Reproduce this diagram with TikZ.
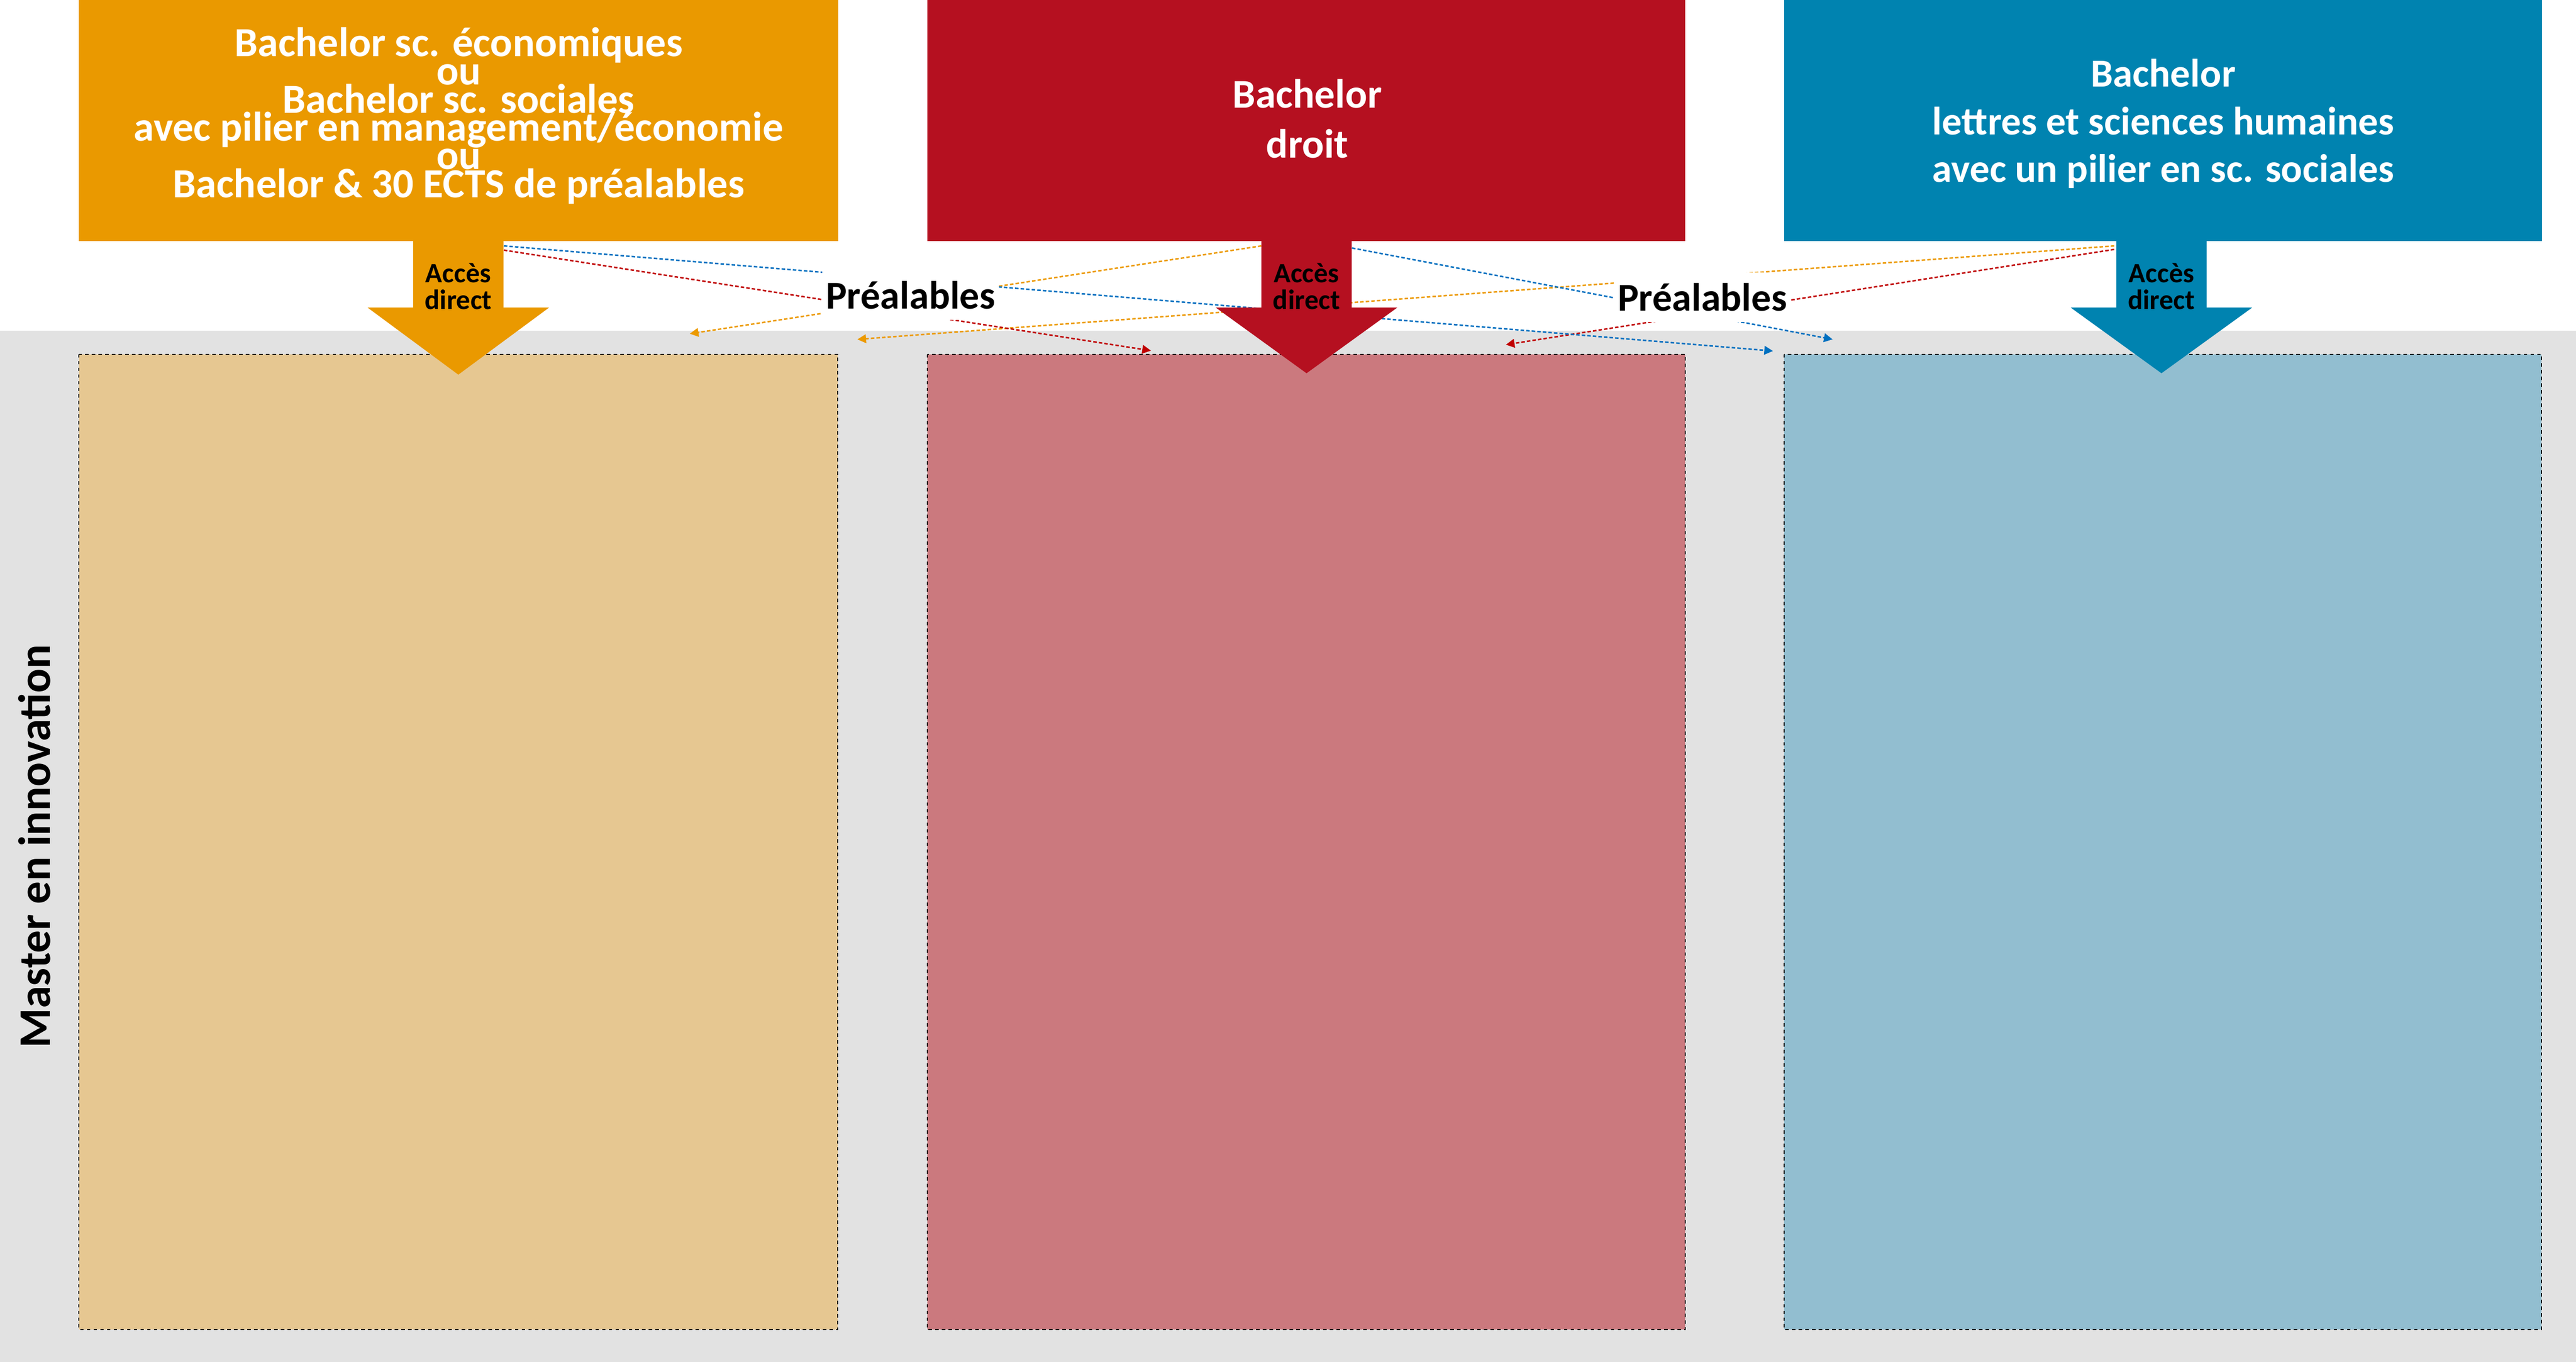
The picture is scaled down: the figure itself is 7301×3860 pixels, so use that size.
\documentclass[tikz,border=0pt]{standalone}
\usepackage{fontspec}
\setmainfont{Carlito}
\usetikzlibrary{arrows.meta}

\definecolor{bachorange}{RGB}{234,153,0}
\definecolor{bachred}{RGB}{181,16,32}
\definecolor{bachblue}{RGB}{0,131,176}
\definecolor{mastorange}{RGB}{230,199,145}
\definecolor{mastred}{RGB}{203,121,126}
\definecolor{mastblue}{RGB}{146,190,208}
\definecolor{bggray}{RGB}{226,226,226}
\definecolor{lineorange}{RGB}{236,154,0}
\definecolor{linered}{RGB}{192,0,0}
\definecolor{lineblue}{RGB}{0,112,192}

\newcommand{\tightlines}{\lineskiplimit-100pt\relax}

\tikzset{
	bachtext/.style = {text = white, align = center},
	accestext/.style = {font = \bfseries\fontsize{11.3}{10.8}\selectfont, align = center},
	prealable/.style = {fill = white, font = \bfseries\fontsize{15.9}{18}\selectfont, minimum width = 2.51cm, minimum height = 0.7cm, inner sep = 0pt},
	mastbox/.style = {draw = black, line width = 0.4pt, dash pattern = on 1.4pt off 1.3pt},
	prereq/.style = {line width = 0.6pt, dash pattern = on 1.4pt off 0.85pt, -{Triangle[length = 3.5pt, width = 3.5pt]}},
	mastertext/.style = {font = \bfseries\fontsize{18.3}{20}\selectfont}
}

\begin{document}
\begin{tikzpicture}[x = 0.005cm, y = -0.005cm]
	\useasboundingbox (0,0) rectangle (7301,3860);
	\fill[bggray] (0,937) rectangle (7301,3860);
	
	\coordinate (oStartB) at (1428,697);
	\coordinate (oStartR) at (1428,709);
	\coordinate (rStartO) at (3575,697);
	\coordinate (rStartB) at (3832,703);
	\coordinate (bStartO) at (5992,697);
	\coordinate (bStartR) at (5992,707);
	
	\coordinate (oEndR) at (1955,946);
	\coordinate (oEndB) at (2430,962);
	\coordinate (rEndO) at (3262,994);
	\coordinate (rEndB) at (4268,977);
	\coordinate (bEndO) at (5025,995);
	\coordinate (bEndR) at (5194,962);
	
	\draw[prereq, lineorange] (rStartO) -- (oEndR);
	\draw[prereq, lineorange] (bStartO) -- (oEndB);
	\draw[prereq, linered] (oStartR) -- (rEndO);
	\draw[prereq, linered] (bStartR) -- (rEndB);
	\draw[prereq, lineblue] (oStartB) -- (bEndO);
	\draw[prereq, lineblue] (rStartB) -- (bEndR);
	
	\node[prealable] (pre1) at (2581,837) {Préalables};
	\node[prealable] (pre2) at (4825,842) {Préalables};
	
	\node[mastertext, rotate = 90, anchor = base] (master) at (143,2399) {Master en innovation};
	
	\begin{scope}[shift = {(224,0)}]
		\fill[bachorange] (0,0) rectangle (2152,683);
		\filldraw[mastbox, fill = mastorange] (0,1004) rectangle (2150,3769);
		\fill[bachorange] (947,600) -- (1203,600) -- (1203,872) -- (1332,872) -- (1075,1062) -- (818,872) -- (947,872) -- cycle;
		\node[accestext] (accO) at (1075,812) {Accès\\direct};
		\node[bachtext, font = \bfseries\fontsize{16.7}{11.4}\selectfont\tightlines] (bachO) at (1076,328)
			{Bachelor sc. économiques\\ou\\Bachelor sc. sociales\\avec pilier en management/économie\\ou\\Bachelor \& 30 ECTS de préalables};
	\end{scope}
	
	\begin{scope}[shift = {(2628,0)}]
		\fill[bachred] (0,0) rectangle (2148,683);
		\filldraw[mastbox, fill = mastred] (0,1004) rectangle (2148,3769);
		\fill[bachred] (947,600) -- (1203,600) -- (1203,872) -- (1332,872) -- (1075,1058) -- (818,872) -- (947,872) -- cycle;
		\node[accestext] (accR) at (1075,812) {Accès\\direct};
		\node[bachtext, font = \bfseries\fontsize{16.5}{20.2}\selectfont] (bachR) at (1077,337) {Bachelor\\droit};
	\end{scope}
	
	\begin{scope}[shift = {(5056,0)}]
		\fill[bachblue] (0,0) rectangle (2149,683);
		\filldraw[mastbox, fill = mastblue] (0,1004) rectangle (2147,3769);
		%\fill[bachblue] (937,600) -- (1193,600) -- (1193,872) -- (1322,872) -- (1065,1058) -- (808,872) -- (937,872) -- cycle;
		\fill[bachblue] (942,600) -- (1198,600) -- (1198,872) -- (1327,872) -- (1070,1058) -- (813,872) -- (942,872) -- cycle;
		\node[accestext] (accB) at (1070,812) {Accès\\direct};
		\node[bachtext, font = \bfseries\fontsize{16}{19.2}\selectfont] (bachB) at (1075,351)
			{Bachelor\\lettres et sciences humaines\\avec un pilier en sc. sociales};
	\end{scope}
	
\end{tikzpicture}
\end{document}
